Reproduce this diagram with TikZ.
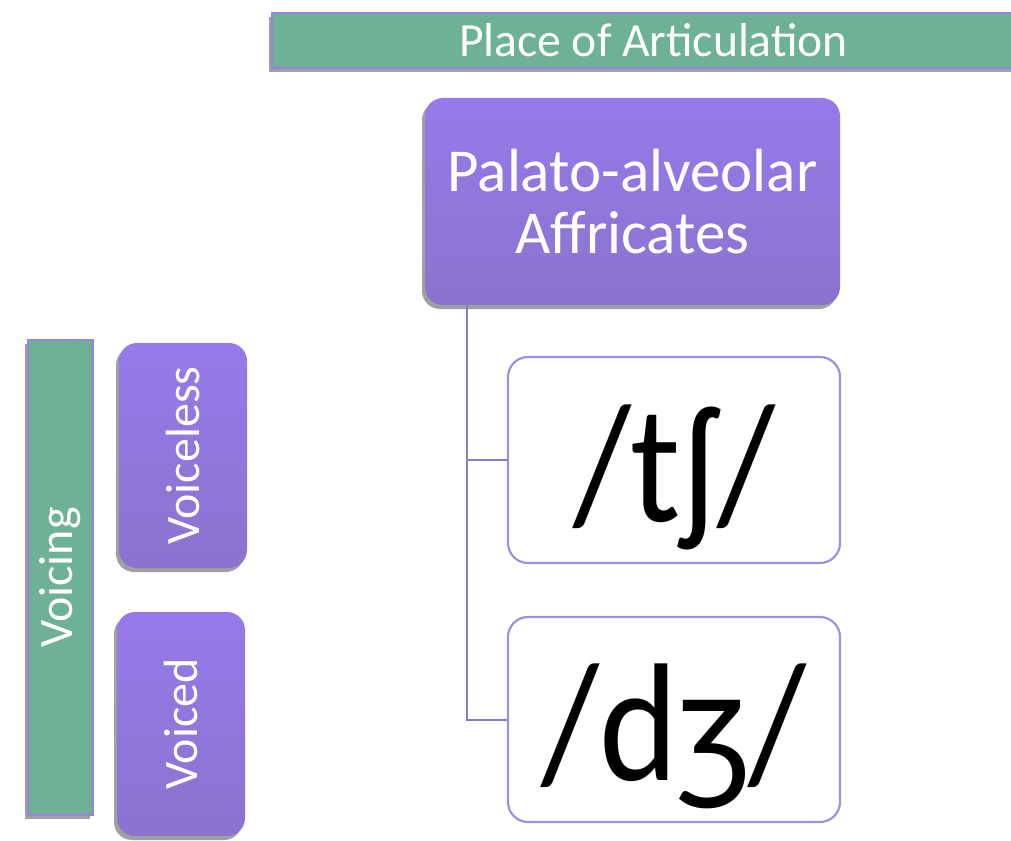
\documentclass[tikz,border=0pt]{standalone}
\usepackage{fontspec}
\setmainfont{Carlito}
\usepackage{tikz}
\usetikzlibrary{shadows}
\definecolor{bargreen}{RGB}{110,178,150}
\definecolor{barline}{RGB}{156,130,220}
\definecolor{boxtop}{RGB}{149,122,234}
\definecolor{boxbot}{RGB}{138,116,206}
\definecolor{ipaline}{RGB}{162,142,222}
\definecolor{linkcol}{RGB}{140,120,200}
% taller IPA glyphs, set a little low in the box
\newcommand{\ipatext}[1]{\raisebox{0pt}[\dimexpr\height+34pt\relax]{\scalebox{1}[1.12]{#1}}}
\tikzset{
bar/.style={
  rectangle, draw=barline, line width=1.5pt, fill=bargreen,
  text=white, inner sep=0pt,
  drop shadow={shadow xshift=-3pt,shadow yshift=-4pt,opacity=.75}
},
catbox/.style={
  rectangle, rounded corners=18pt, draw=none,
  top color=boxtop, bottom color=boxbot,
  text=white, inner sep=0pt, align=center,
  drop shadow={shadow xshift=-3pt,shadow yshift=-4pt,opacity=.75}
},
ipabox/.style={
  rectangle, rounded corners=20pt, draw=ipaline, line width=2.2pt,
  fill=white, inner sep=0pt,
  font=\fontsize{150}{150}\selectfont
},
link/.style={draw=linkcol, line width=2pt},
}

\begin{document}
\begin{tikzpicture}[x=1pt,y=-1pt]
\clip (0,0) rectangle (1011,840);
% the headings
\node (place) [bar, minimum width=763pt, minimum height=55pt,
  font=\fontsize{47.6}{48}\selectfont] at (653.5,40.5) {Place of Articulation};
\node (voicing) [bar, minimum width=65pt, minimum height=475pt,
  font=\fontsize{48}{48}\selectfont] at (60.5,577.5) {\rotatebox{90}{Voicing}};
% the categories
\node (palato) [catbox, minimum width=415pt, minimum height=207pt,
  font=\fontsize{61}{62}\selectfont] at (632.5,201.5) {Palato-alveolar\\Affricates};
\node (voiceless) [catbox, minimum width=128pt, minimum height=225pt,
  font=\fontsize{48}{48}\selectfont] at (183,455.5) {\rotatebox{90}{Voiceless}};
\node (voiced) [catbox, minimum width=128pt, minimum height=224pt,
  font=\fontsize{48}{48}\selectfont] at (181,724) {\rotatebox{90}{Voiced}};
% the sounds
\node (tsh) [ipabox, minimum width=332pt, minimum height=206pt] at (674,460) {\ipatext{/tʃ/}};
\node (dzh) [ipabox, minimum width=332pt, minimum height=205pt] at (674,719.5) {\ipatext{/dʒ/}};
% the links
\coordinate (fork) at ([xshift=42pt]palato.south west);
\draw[link] (fork) |- (tsh.west);
\draw[link] (fork) |- (dzh.west);
\end{tikzpicture}
\end{document}
